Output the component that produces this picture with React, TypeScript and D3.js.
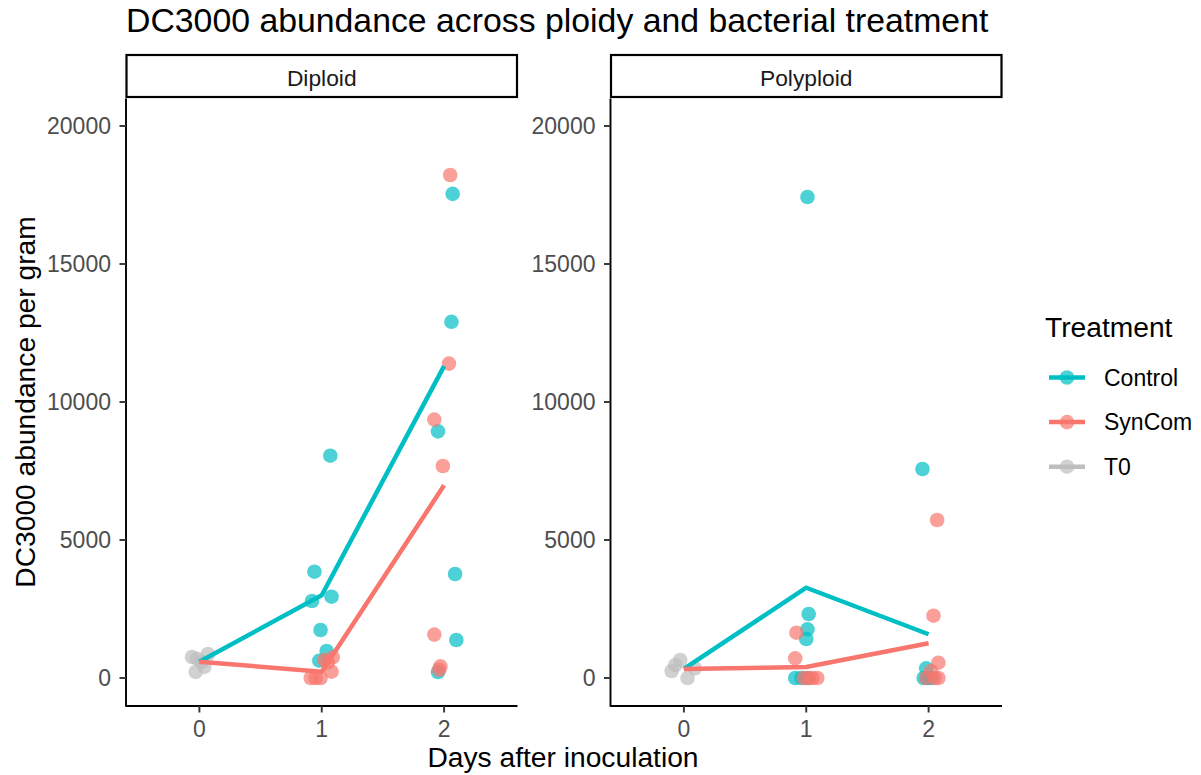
import React from "react";
import * as d3 from "d3";

// ---------- data ----------
const panels = ["Diploid", "Polyploid"];
const treatments = ["Control", "SynCom", "T0"];
const colors = ["#00BFC4", "#F8766D", "#BEBEBE"];
const xTicks = [0, 1, 2];
const yTicks = [0, 5000, 10000, 15000, 20000];

// jittered points: [day(jittered), value]
const diploidT0 = [[-0.06, 760], [0.07, 870], [-0.03, 220], [0.04, 400], [0.02, 580], [-0.02, 700]];
const diploidControl = [
  [1.07, 8054], [0.94, 3851], [0.92, 2790], [1.08, 2946], [0.99, 1739], [1.04, 978], [0.98, 627],
  [1.95, 217], [2.07, 17540], [2.06, 12906], [1.95, 8935], [2.09, 3768], [2.1, 1377],
];
const diploidSynCom = [
  [1.09, 750], [1.08, 228], [0.91, 0], [0.99, 0], [1.02, 650], [0.95, 0], [1.05, 560],
  [2.05, 18225], [2.04, 11391], [1.92, 9362], [1.99, 7681], [1.92, 1572], [1.97, 420], [1.96, 300],
];
const polyT0 = [[-0.03, 652], [-0.07, 471], [-0.1, 254], [0.03, 0], [0.09, 351]];
const polyControl = [
  [1.01, 17428], [1.02, 2318], [1.01, 1763], [1.0, 1413], [0.91, 0], [1.01, 0], [0.96, 0],
  [1.95, 7572], [1.98, 351], [1.96, 0], [2.02, 0], [1.99, 0],
];
const polySynCom = [
  [0.92, 1642], [0.91, 714], [1.05, 0], [1.09, 0], [0.98, 0], [1.02, 0],
  [2.07, 5725], [2.04, 2258], [2.08, 554], [2.02, 250], [1.98, 0], [2.05, 0], [2.08, 0],
];

// summary lines (value at day 0, 1, 2)
const diploidControlLine = [590, 3000, 11300];
const diploidSynComLine = [590, 230, 6980];
const polyControlLine = [330, 3270, 1585];
const polySynComLine = [330, 400, 1260];

const pointsByPanel = [
  [diploidControl, diploidSynCom, diploidT0],
  [polyControl, polySynCom, polyT0],
];
const linesByPanel = [
  [diploidControlLine, diploidSynComLine],
  [polyControlLine, polySynComLine],
];

// ---------- layout ----------
const W = 1201, H = 775;
const FONT = "'Liberation Sans', Arial, Helvetica, sans-serif";
const panelLeft = [126, 610.5];
const panelW = 391.5;
const panelTop = 98.5, panelBottom = 706;
const stripTop = 55;
const R = 7.3;

const y = d3.scaleLinear().domain([0, 20000]).range([678, 126]);

export default function App() {
  return (
    <svg width={W} height={H} style={{ display: "block", position: "absolute", left: 0, top: 0 }} fontFamily={FONT}>
      <rect width={W} height={H} fill="#fff" />
      <text x={126} y={32} fontSize={33.8} fill="#000">
        DC3000 abundance across ploidy and bacterial treatment
      </text>
      {panels.map((p, pi) => {
        const x0 = panelLeft[pi];
        const x = d3.scaleLinear().domain([-0.6, 2.6]).range([x0, x0 + panelW]);
        const line = d3.line<number>().x((_, i) => x(xTicks[i])).y((v) => y(v));
        return (
          <g key={p}>
            {/* strip */}
            <rect x={x0 + 0.5} y={stripTop} width={panelW - 1} height={panelTop - stripTop - 1.5} fill="#fff" stroke="#000" strokeWidth={2.2} />
            <text x={x0 + panelW / 2} y={86} fontSize={22.8} textAnchor="middle" fill="#1A1A1A">{p}</text>
            {/* axes */}
            <line x1={x0} x2={x0} y1={panelTop} y2={panelBottom + 0.8} stroke="#000" strokeWidth={1.9} />
            <line x1={x0} x2={x0 + panelW} y1={panelBottom} y2={panelBottom} stroke="#000" strokeWidth={1.9} />
            {yTicks.map((t) => (
              <g key={t}>
                <line x1={x0 - 6.5} x2={x0} y1={y(t)} y2={y(t)} stroke="#333" strokeWidth={1.9} />
                <text x={x0 - 15} y={y(t)} dy="0.36em" fontSize={23} textAnchor="end" fill="#4D4D4D">{t}</text>
              </g>
            ))}
            {xTicks.map((t) => (
              <g key={t}>
                <line x1={x(t)} x2={x(t)} y1={panelBottom} y2={panelBottom + 6.5} stroke="#333" strokeWidth={1.9} />
                <text x={x(t)} y={736.5} fontSize={23} textAnchor="middle" fill="#4D4D4D">{t}</text>
              </g>
            ))}
            {/* points */}
            {pointsByPanel[pi].map((pts, ti) => (
              <g key={ti}>
                {pts.map((d, k) => (
                  <circle key={k} cx={x(d[0])} cy={y(d[1])} r={R} fill={colors[ti]} fillOpacity={0.7} />
                ))}
              </g>
            ))}
            {/* lines */}
            {linesByPanel[pi].map((vals, ti) => (
              <path key={ti} d={line(vals) || ""} fill="none" stroke={colors[ti]} strokeWidth={4.5} strokeLinejoin="round" />
            ))}
          </g>
        );
      })}
      {/* axis titles */}
      <text x={563} y={766.5} fontSize={28.2} textAnchor="middle" fill="#000">Days after inoculation</text>
      <text transform={`translate(35,402) rotate(-90)`} fontSize={28.2} textAnchor="middle" fill="#000">DC3000 abundance per gram</text>
      {/* legend */}
      <text x={1045} y={336.7} fontSize={28.2} fill="#000">Treatment</text>
      {treatments.map((t, i) => {
        const cy = 377.5 + i * 44.6;
        return (
          <g key={t}>
            <line x1={1049} x2={1085} y1={cy} y2={cy} stroke={colors[i]} strokeWidth={4.5} />
            <circle cx={1067} cy={cy} r={R} fill={colors[i]} fillOpacity={0.7} />
            <text x={1104} y={cy} dy="0.36em" fontSize={23} fill="#000">{t}</text>
          </g>
        );
      })}
    </svg>
  );
}
